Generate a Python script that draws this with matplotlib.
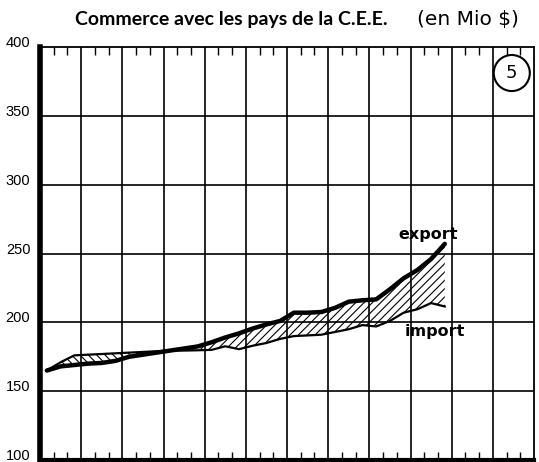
import matplotlib
matplotlib.use("Agg")
import matplotlib.pyplot as plt
import numpy as np

# sub-period index (3 per grid column), 30 observations
periods = np.arange(30) + 0.5
export_vals = [165, 168, 169, 170, 170.5, 172, 175, 176.5, 178, 179.5,
               181, 182.5, 185.5, 189, 192, 195.5, 198.5, 201, 207, 207,
               207.5, 210.5, 215, 216, 216.7, 224, 232, 238, 246, 257]
import_vals = [165, 171, 176, 176.5, 177, 177.5, 178, 178.5, 179, 179.5,
               179.5, 179.7, 180, 182.6, 180.5, 183, 185, 188, 190, 190.5,
               191, 193, 195, 198, 197, 201, 207, 209.5, 214, 211.5]
yticks = [100, 150, 200, 250, 300, 350, 400]

plt.rcParams['hatch.linewidth'] = 0.8
fig = plt.figure(figsize=(5.39, 4.62), dpi=100)
ax = fig.add_axes([40/539, 2/462, 494/539, 413/462])

ex = np.array(export_vals)
im = np.array(import_vals)
ax.fill_between(periods, ex, im, where=ex >= im, interpolate=True,
                facecolor='white', edgecolor='black', hatch='////', linewidth=0)
ax.fill_between(periods, ex, im, where=ex <= im, interpolate=True,
                facecolor='white', edgecolor='black', hatch='\\\\\\\\', linewidth=0)
ax.plot(periods, im, color='black', lw=1.6, solid_joinstyle='round', zorder=4)
ax.plot(periods, ex, color='black', lw=3.2, solid_joinstyle='round',
        solid_capstyle='round', zorder=5)

ax.set_xlim(0, 36)
ax.set_ylim(100, 400)
for xv in range(3, 36, 3):
    ax.axvline(xv, color='black', lw=1.2, zorder=1)
for yv in yticks[1:-1]:
    ax.axhline(yv, color='black', lw=1.2, zorder=1)

ax.set_yticks(yticks)
ax.set_yticklabels([str(v) for v in yticks], fontsize=10.5,
                   family='Liberation Sans')
for lab in ax.get_yticklabels():
    lab.set_verticalalignment('baseline')
ax.tick_params(axis='y', length=0, pad=7)

minor = [v for v in range(1, 36) if v % 3 != 0]
ax.set_xticks(minor)
ax.set_xticklabels([])
ax.tick_params(axis='x', which='both', direction='in', length=6, width=1,
               top=True, bottom=True)

ax.spines['left'].set_linewidth(4)
ax.spines['bottom'].set_linewidth(3)
ax.spines['top'].set_linewidth(1.3)
ax.spines['right'].set_linewidth(1.3)

fig.text(75/539, 1 - 19/462, "Commerce avec les pays de la C.E.E.",
         fontsize=14, fontweight='bold', family='Lato',
         va='center', ha='left')
fig.text(519/539, 1 - 19/462, "(en Mio $)", fontsize=14.5,
         family='DejaVu Sans', va='center', ha='right')

ax.text(0.955, 0.937, "5", transform=ax.transAxes, fontsize=13,
        ha='center', va='center',
        bbox=dict(boxstyle='circle,pad=0.5', facecolor='white',
                  edgecolor='black', lw=1.5))
ax.text(28.3, 258, "export", fontsize=11.5, fontweight='bold',
        ha='center', va='bottom', zorder=6)
ax.text(28.8, 199, "import", fontsize=11.5, fontweight='bold',
        ha='center', va='top', zorder=6)

fig.savefig("out.png", dpi=100)
